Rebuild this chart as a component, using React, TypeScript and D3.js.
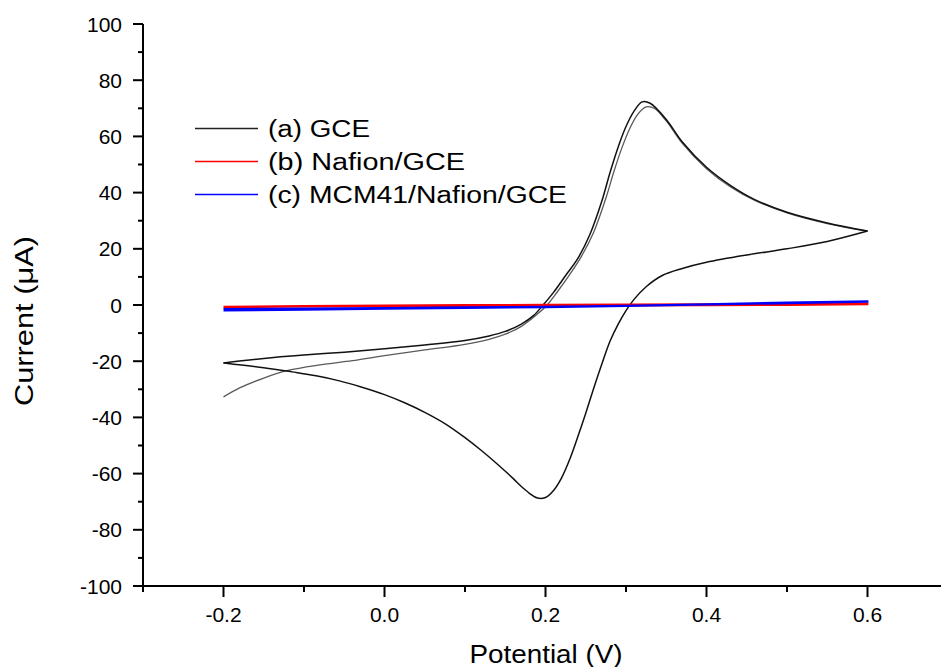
import React from "react";
import * as d3 from "d3";

// ---- data (potential in V, current in µA) ----
const gceCycle1FwdE = [-0.2, -0.18, -0.15, -0.12, -0.08, -0.04, 0.0, 0.05, 0.1, 0.13, 0.15, 0.17, 0.19, 0.202, 0.215, 0.23, 0.245, 0.26, 0.275, 0.285, 0.295, 0.305, 0.315, 0.325, 0.335, 0.35, 0.37, 0.4, 0.43, 0.46, 0.5, 0.55, 0.6];
const gceCycle1FwdI = [-32.7, -29.5, -26.0, -23.3, -21.3, -19.8, -18.0, -16.0, -14.0, -12.2, -10.4, -7.6, -3.2, 0, 4.8, 10.8, 17.5, 26, 38, 47.5, 56, 63, 68, 70.5, 70, 65.5, 57.5, 48.5, 42, 37.2, 32.8, 29, 26.3];

const gceCycle2FwdE = [-0.2, -0.15, -0.1, -0.05, 0.0, 0.05, 0.1, 0.13, 0.15, 0.17, 0.185, 0.197, 0.21, 0.225, 0.24, 0.255, 0.27, 0.28, 0.29, 0.3, 0.31, 0.32, 0.33, 0.35, 0.37, 0.4, 0.43, 0.46, 0.5, 0.55, 0.6];
const gceCycle2FwdI = [-20.6, -19.0, -17.8, -16.8, -15.6, -14.2, -12.6, -11.0, -9.4, -6.8, -3.8, 0, 4.5, 10.5, 16.5, 25, 37, 47, 56, 63.5, 69, 72.3, 71.8, 66, 58, 49, 42.5, 37.5, 33, 29.2, 26.3];

const gceRevE = [0.6, 0.55, 0.5, 0.45, 0.4, 0.37, 0.345, 0.325, 0.31, 0.3, 0.29, 0.28, 0.27, 0.26, 0.25, 0.24, 0.23, 0.22, 0.21, 0.2, 0.19, 0.18, 0.17, 0.16, 0.14, 0.12, 0.1, 0.075, 0.05, 0.025, 0.0, -0.03, -0.056, -0.085, -0.115, -0.15, -0.2];
const gceRevI = [26.3, 22.6, 20, 17.8, 15.2, 13, 10.5, 6.5, 2, -2, -7, -13, -21, -29.5, -38.5, -47, -55, -61.5, -66, -68.5, -68.7, -67, -64.6, -61.8, -56.6, -51.7, -47.2, -42.2, -38.2, -34.8, -31.9, -29.1, -27, -25.2, -23.8, -22.3, -20.6];

const nafionE = [-0.2, -0.1, 0.0, 0.1, 0.2, 0.3, 0.4, 0.5, 0.6, 0.6, 0.5, 0.4, 0.3, 0.2, 0.1, 0.0, -0.1, -0.2];
const nafionI = [-0.6, -0.3, -0.1, 0.0, 0.1, 0.2, 0.3, 0.45, 0.6, 0.2, 0.0, -0.1, -0.2, -0.3, -0.4, -0.5, -0.6, -0.8];

const mcmE = [-0.2, -0.1, 0.0, 0.1, 0.2, 0.3, 0.4, 0.5, 0.6, 0.6, 0.5, 0.4, 0.3, 0.2, 0.1, 0.0, -0.1, -0.2];
const mcmI = [-1.4, -1.2, -1.0, -0.8, -0.6, -0.2, 0.3, 0.9, 1.4, 1.1, 0.6, 0.1, -0.4, -0.8, -1.1, -1.4, -1.7, -2.0];

const xTicks = [-0.2, 0.0, 0.2, 0.4, 0.6];
const xMinorTicks = [-0.3, -0.1, 0.1, 0.3, 0.5, 0.7];
const yTicks = [-100, -80, -60, -40, -20, 0, 20, 40, 60, 80, 100];
const yMinorTicks = [-90, -70, -50, -30, -10, 10, 30, 50, 70, 90];

const legendLabels = ["(a) GCE", "(b) Nafion/GCE", "(c) MCM41/Nafion/GCE"];
const legendColors = ["#222222", "#ff0000", "#0000ff"];

const W = 941;
const H = 667;

export default function App() {
  const x = d3.scaleLinear().domain([-0.3, 0.7]).range([143, 948]);
  const y = d3.scaleLinear().domain([-100, 100]).range([586, 24]);

  const zip = (E: number[], I: number[]) => E.map((e, i) => [e, I[i]] as [number, number]);
  const line = d3
    .line<[number, number]>()
    .x((d) => x(d[0]))
    .y((d) => y(d[1]))
    .curve(d3.curveCatmullRom.alpha(0.5));
  const straight = d3
    .line<[number, number]>()
    .x((d) => x(d[0]))
    .y((d) => y(d[1]));

  const font = "Arial, 'Liberation Sans', sans-serif";
  const x0 = x(-0.3);
  const yBottom = y(-100);

  return (
    <div style={{ position: "absolute", left: 0, top: 0 }}>
      <svg width={W} height={H} style={{ display: "block", background: "#fff" }}>
        <rect x={0} y={0} width={W} height={H} fill="#fff" />
        {/* GCE curves */}
        <path d={line(zip(gceCycle1FwdE, gceCycle1FwdI)) || ""} fill="none" stroke="#5a5a5a" strokeWidth={1.3} />
        <path d={line(zip(gceRevE, gceRevI)) || ""} fill="none" stroke="#111" strokeWidth={1.5} />
        <path d={line(zip(gceCycle2FwdE, gceCycle2FwdI)) || ""} fill="none" stroke="#111" strokeWidth={1.5} />
        {/* Nafion / MCM41 */}
        <path d={straight(zip(nafionE, nafionI)) || ""} fill="none" stroke="#ff0000" strokeWidth={1.8} />
        <path d={straight(zip(mcmE, mcmI)) || ""} fill="none" stroke="#0000ff" strokeWidth={1.8} />

        {/* axes */}
        <line x1={x0} x2={W} y1={yBottom} y2={yBottom} stroke="#000" strokeWidth={2} />
        <line x1={x0} x2={x0} y1={y(100)} y2={yBottom} stroke="#000" strokeWidth={2} />
        {xTicks.map((t) => (
          <g key={"xt" + t}>
            <line x1={x(t)} x2={x(t)} y1={yBottom} y2={yBottom + 11} stroke="#000" strokeWidth={2} />
            <text x={x(t)} y={622} textAnchor="middle" fontFamily={font} fontSize={21} fill="#000">
              {t.toFixed(1)}
            </text>
          </g>
        ))}
        {xMinorTicks.map((t) => (
          <line key={"xm" + t} x1={x(t)} x2={x(t)} y1={yBottom} y2={yBottom + 6} stroke="#000" strokeWidth={2} />
        ))}
        {yTicks.map((t) => (
          <g key={"yt" + t}>
            <line x1={x0 - 10} x2={x0} y1={y(t)} y2={y(t)} stroke="#000" strokeWidth={2} />
            <text x={122} y={y(t)} dy="0.36em" textAnchor="end" fontFamily={font} fontSize={21} fill="#000">
              {String(t)}
            </text>
          </g>
        ))}
        {yMinorTicks.map((t) => (
          <line key={"ym" + t} x1={x0 - 5} x2={x0} y1={y(t)} y2={y(t)} stroke="#000" strokeWidth={2} />
        ))}

        {/* axis titles */}
        <text x={546} y={663} textAnchor="middle" fontFamily={font} fontSize={25} fill="#000" textLength={153} lengthAdjust="spacingAndGlyphs">
          Potential (V)
        </text>
        <text
          transform={`translate(33,321) rotate(-90)`}
          textAnchor="middle"
          fontFamily={font}
          fontSize={25}
          fill="#000"
          textLength={170}
          lengthAdjust="spacingAndGlyphs"
        >
          Current (μA)
        </text>

        {/* legend */}
        {legendLabels.map((lab, i) => {
          const ly = 128.5 + i * 33;
          const widths = [102, 197, 299];
          return (
            <g key={lab}>
              <line x1={195} x2={258} y1={ly} y2={ly} stroke={legendColors[i]} strokeWidth={1.5} />
              <text x={268} y={ly + 8.5} fontFamily={font} fontSize={23} fill="#000" textLength={widths[i]} lengthAdjust="spacingAndGlyphs">
                {lab}
              </text>
            </g>
          );
        })}
      </svg>
    </div>
  );
}
